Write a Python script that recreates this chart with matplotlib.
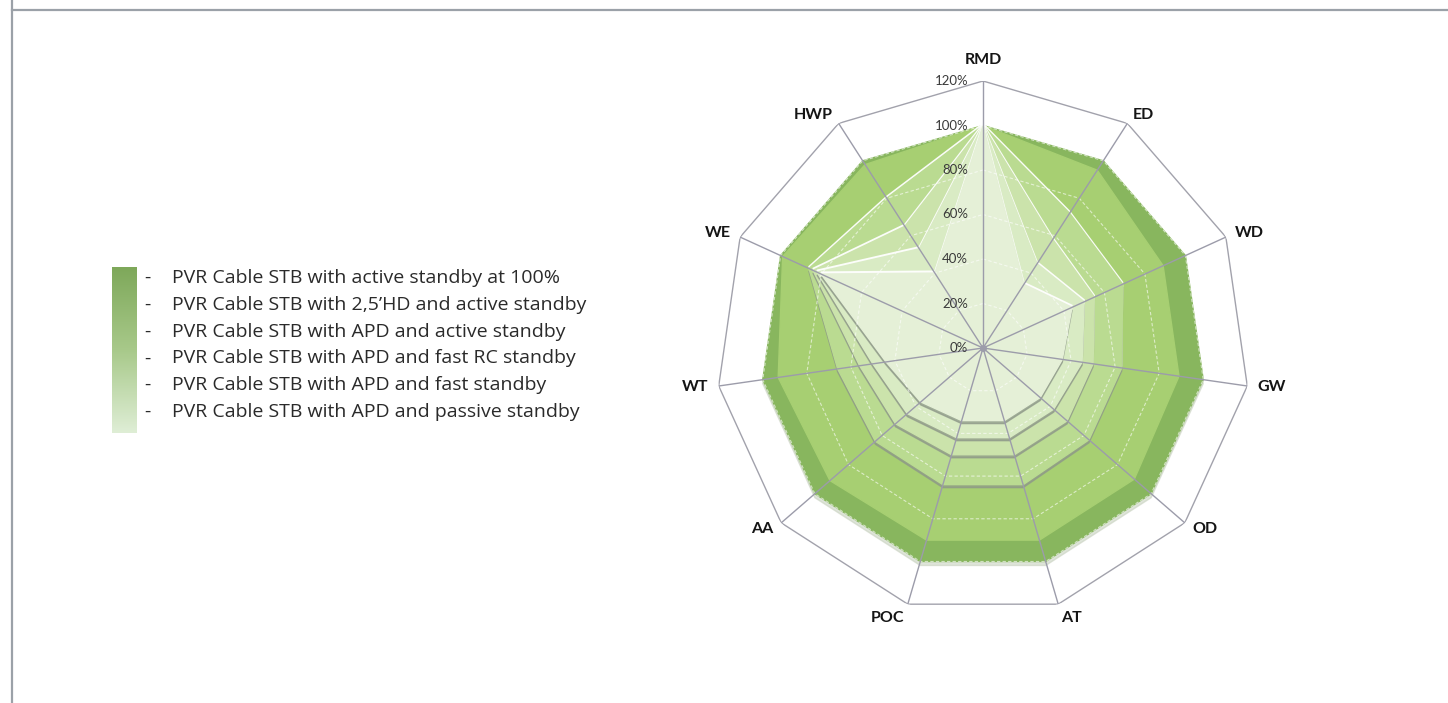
import numpy as np
import matplotlib
matplotlib.use("Agg")
import matplotlib.pyplot as plt
from matplotlib.colors import LinearSegmentedColormap
from matplotlib.lines import Line2D
from matplotlib.transforms import offset_copy

# axes of the radar, clockwise from the top
categories = ["RMD", "ED", "WD", "GW", "OD", "AT", "POC", "AA", "WT", "WE", "HWP"]

series_names = [
    "PVR Cable STB with active standby at 100%",
    "PVR Cable STB with 2,5\u2019HD and active standby",
    "PVR Cable STB with APD and active standby",
    "PVR Cable STB with APD and fast RC standby",
    "PVR Cable STB with APD and fast standby",
    "PVR Cable STB with APD and passive standby",
]

# values in % of the reference box
active_100 = [100, 100, 100, 100, 100, 100, 100, 100, 100, 100, 100]
hd_active = [100, 95, 89, 89, 90, 90, 90, 91, 93, 99, 98]
apd_active = [100, 72, 69, 63, 63, 64, 64, 64, 66, 86, 80]
apd_fast_rc = [100, 58, 55, 50, 50, 50, 50, 52, 56, 84, 65]
apd_fast = [100, 45, 50, 45, 42, 42, 42, 45, 50, 82, 53]
apd_passive = [100, 34, 44, 36, 34, 34, 34, 37, 44, 80, 40]

rings = [0, 20, 40, 60, 80, 100, 120]
ring_labels = ["0%", "20%", "40%", "60%", "80%", "100%", "120%"]

all_series = [active_100, hd_active, apd_active, apd_fast_rc, apd_fast, apd_passive]
fills = ["#88b65e", "#a7cf72", "#badb91", "#cbe3ab", "#d9ebc4", "#e5f0d7"]

fig = plt.figure(figsize=(14.48, 7.03), dpi=100)

# page frame lines
fig.add_artist(Line2D([12 / 1448, 12 / 1448], [0, 1], transform=fig.transFigure,
                      color="#9ba1a8", lw=1.6))
fig.add_artist(Line2D([12 / 1448, 1], [1 - 9.5 / 703, 1 - 9.5 / 703],
                      transform=fig.transFigure, color="#9ba1a8", lw=1.6))

ax = fig.add_axes([716 / 1448, 88 / 703, 534 / 1448, 534 / 703], projection="polar")
ax.set_theta_zero_location("N")
ax.set_theta_direction(-1)
ax.set_ylim(0, 120)
ax.axis("off")

n = len(categories)
theta = np.arange(n) * 2 * np.pi / n
theta_c = np.append(theta, theta[0])

# light from above: white rim on top edges, grey shadow under the lower ones
up = offset_copy(ax.transData, fig=fig, x=0, y=2, units="dots")
down = offset_copy(ax.transData, fig=fig, x=0, y=-3, units="dots")
down_big = offset_copy(ax.transData, fig=fig, x=0, y=-4, units="dots")

for i, (vals, col) in enumerate(zip(all_series, fills)):
    v = np.append(vals, vals[0])
    z = 2 + 3 * i
    if i == 0:
        ax.fill(theta_c, v, color="#c9d2c0", alpha=0.6, transform=down_big, zorder=z)
    if i >= 2:
        ax.fill(theta_c, v, color="white", alpha=0.9, transform=up, zorder=z)
        ax.fill(theta_c, v, color="#8e9889", alpha=0.75, transform=down, zorder=z + 1)
    ax.fill(theta_c, v, color=col, zorder=z + 2)

# inner grid rings show through the fills
for r in rings[1:-1]:
    ax.plot(theta_c, [r] * (n + 1), color="white", lw=0.8, ls=(0, (3, 2)),
            alpha=0.6, zorder=30)
ax.plot(theta_c, [120] * (n + 1), color="#a2a2ac", lw=1.0, zorder=31)
for t in theta:
    ax.plot([t, t], [0, 120], color="#9c9caa", lw=1.0, zorder=31)
ax.plot([0], [0], "o", color="#9c9caa", ms=4, zorder=32)

for r, lab in zip(rings, ring_labels):
    ax.annotate(lab, xy=(0, r), xytext=(-15, 0), textcoords="offset pixels",
                ha="right", va="center", fontsize=9.5, color="#3a3a3a",
                family="Lato", zorder=33, annotation_clip=False)

for t, cat in zip(theta, categories):
    s, c = np.sin(t), np.cos(t)
    if abs(s) < 0.1:
        ha = "center"
    else:
        ha = "left" if s > 0 else "right"
    if c > 0.95:
        off = (0, 21)
    elif c < -0.9:
        off = (11 * s, -14)
    else:
        off = (10 * s, 10 * c)
    ax.annotate(cat, xy=(t, 120), xytext=off, textcoords="offset pixels",
                ha=ha, va="center", fontsize=11.5, fontweight="bold",
                color="#151515", family="Lato", annotation_clip=False)

# legend: gradient bar with dash-led captions
lax = fig.add_axes([112 / 1448, (703 - 433) / 703, 25 / 1448, 166 / 703])
grad = LinearSegmentedColormap.from_list("g", ["#7ea85a", "#a8c98a", "#dfeed6"])
lax.imshow(np.linspace(0, 1, 256).reshape(-1, 1), cmap=grad, aspect="auto")
lax.axis("off")

for i, name in enumerate(series_names):
    y = 1 - (278 + 26.8 * i) / 703
    fig.text(144 / 1448, y, "-", ha="left", va="center", fontsize=14,
             color="#2a2a2a", family="Open Sans")
    fig.text(172 / 1448, y, name, ha="left", va="center", fontsize=14,
             color="#2a2a2a", family="Open Sans")

fig.savefig("out.png", dpi=100)
